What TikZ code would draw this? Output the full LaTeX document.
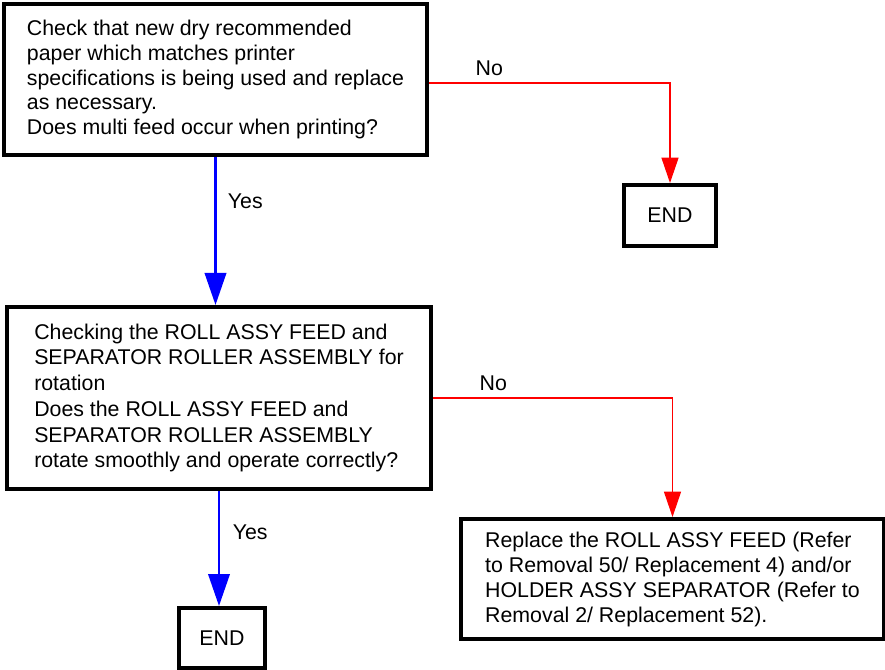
\documentclass[tikz,border=0pt]{standalone}
\usepackage{fontspec}
\setmainfont{Liberation Sans}
\usetikzlibrary{arrows.meta}

\begin{document}
\begin{tikzpicture}[
    x=0.75pt, y=-0.75pt,
    every node/.style={text=black, font=\fontsize{16pt}{18.5pt}\selectfont},
    stepbox/.style={draw, line width=3pt, align=left, inner sep=0pt},
    endbox/.style={draw, line width=3pt, inner sep=0pt},
    yes/.style={draw=blue, line width=2pt, -{Triangle[length=24pt, width=16pt]}},
    no/.style={draw=red, line width=0.9pt, -{Triangle[length=19pt, width=12.75pt]}}
]

    % ==========================
    % Canvas (pixel units, origin top left)
    % ==========================
    \useasboundingbox (0,0) rectangle (885,670);

    % ==========================
    % Boxes
    % ==========================
    \node[stepbox, minimum width=317.25pt, minimum height=113.25pt] (check) at (215.5,79.5)
        {Check that new dry recommended\\
         paper which matches printer\\
         specifications is being used and replace\\
         as necessary.\\
         Does multi feed occur when printing?};

    \node[endbox, minimum width=69pt, minimum height=45.75pt] (end1) at (670,215.5) {END};

    \node[stepbox, minimum width=318pt, minimum height=136.5pt,
          font=\fontsize{16pt}{19.3pt}\selectfont] (rotate) at (219,398)
        {Checking the ROLL ASSY FEED and\\
         SEPARATOR ROLLER ASSEMBLY for\\
         rotation\\
         Does the ROLL ASSY FEED and\\
         SEPARATOR ROLLER ASSEMBLY\\
         rotate smoothly and operate correctly?};

    \node[stepbox, minimum width=317.25pt, minimum height=90pt,
          font=\fontsize{16pt}{18.75pt}\selectfont] (replace) at (672.5,579)
        {Replace the ROLL ASSY FEED (Refer\\
         to Removal 50/ Replacement 4) and/or\\
         HOLDER ASSY SEPARATOR (Refer to\\
         Removal 2/ Replacement 52).};

    \node[endbox, minimum width=64.5pt, minimum height=45pt] (end2) at (222,638) {END};

    % ==========================
    % Connectors
    % ==========================
    \draw[yes] (check.south) -- node[pos=0.3, right=5pt] (yes1) {Yes} (check.south |- rotate.north);
    \draw[no] ([yshift=-2.6pt]check.east) -| node[pos=0.125, above=2pt] (no1) {No} (end1.north);

    \draw[yes] (rotate.south) -- node[pos=0.36, right=6pt] (yes2) {Yes} (rotate.south |- end2.north);
    \draw[no] (rotate.east) -| node[pos=0.126, above=2pt] (no2) {No} (replace.north);

\end{tikzpicture}
\end{document}
